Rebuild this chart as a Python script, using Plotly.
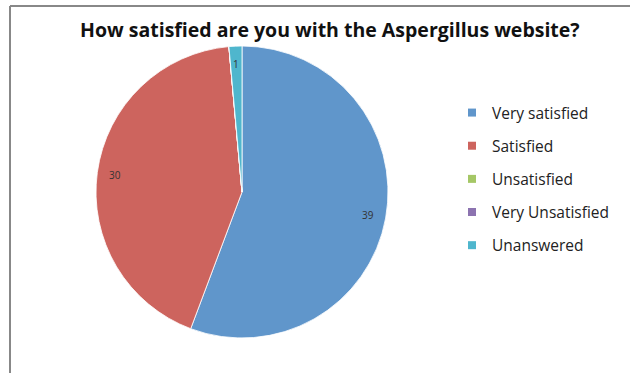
import math
import plotly.graph_objects as go

categories = ["Very satisfied", "Satisfied", "Unsatisfied", "Very Unsatisfied", "Unanswered"]
values = [39, 30, 0, 0, 1]
colors = ["#6096CB", "#CD645E", "#A5C766", "#8C73B0", "#4FB6CD"]
title_text = "How satisfied are you with the Aspergillus website?"

W, H = 630, 373
# pie domain in pixels
px0, px1, py0, py1 = 96, 388, 46, 338
cx, cy = (px0 + px1) / 2, (py0 + py1) / 2
R = (px1 - px0) / 2

fig = go.Figure()
fig.add_trace(go.Pie(
    labels=categories, values=values, sort=False, direction="clockwise",
    rotation=0, marker=dict(colors=colors, line=dict(color="white", width=0.8)),
    textinfo="none", showlegend=False, hoverinfo="label+value",
    domain=dict(x=[px0 / W, px1 / W], y=[1 - py1 / H, 1 - py0 / H]),
))

# legend entries as dummy traces
for c, col in zip(categories, colors):
    fig.add_trace(go.Scatter(
        x=[None], y=[None], mode="markers", name=c, legendgroup=c,
        marker=dict(symbol="square", size=8, color=col),
        showlegend=True,
    ))

# data labels near slice edges
total = sum(values)
annotations = []
acc = 0
for v in values:
    if v > 0:
        mid = (acc + v / 2) / total * 2 * math.pi
        r = 0.88 * R
        x = cx + r * math.sin(mid)
        y = cy - r * math.cos(mid)
        annotations.append(dict(x=x / W, y=1 - y / H, xref="paper", yref="paper",
                                xanchor="center", yanchor="middle",
                                text=str(v), showarrow=False,
                                font=dict(size=10, color="#333333", family="Open Sans")))
    acc += v

annotations.append(dict(x=330 / W, y=1 - 29 / H, xref="paper", yref="paper",
                        xanchor="center", yanchor="middle",
                        text="<b>" + title_text + "</b>", showarrow=False,
                        font=dict(size=19.5, color="#111111", family="Open Sans")))

fig.update_layout(
    width=W, height=H,
    margin=dict(l=0, r=0, t=0, b=0),
    paper_bgcolor="white", plot_bgcolor="white",
    xaxis=dict(visible=False), yaxis=dict(visible=False),
    annotations=annotations,
    legend=dict(x=452 / W, y=1 - 96 / H, xanchor="left", yanchor="top",
                font=dict(size=15.5, color="#222222", family="Open Sans"),
                tracegroupgap=10, itemwidth=30, bgcolor="rgba(0,0,0,0)"),
    shapes=[
        dict(type="line", xref="paper", yref="paper", x0=10 / W, x1=10 / W,
             y0=0, y1=1 - 6 / H, line=dict(color="#888888", width=2)),
        dict(type="line", xref="paper", yref="paper", x0=10 / W, x1=1,
             y0=1 - 6 / H, y1=1 - 6 / H, line=dict(color="#888888", width=2)),
    ],
)

fig.write_html("out.html", config={"displayModeBar": False},
               post_script="document.body.style.margin='0';")
